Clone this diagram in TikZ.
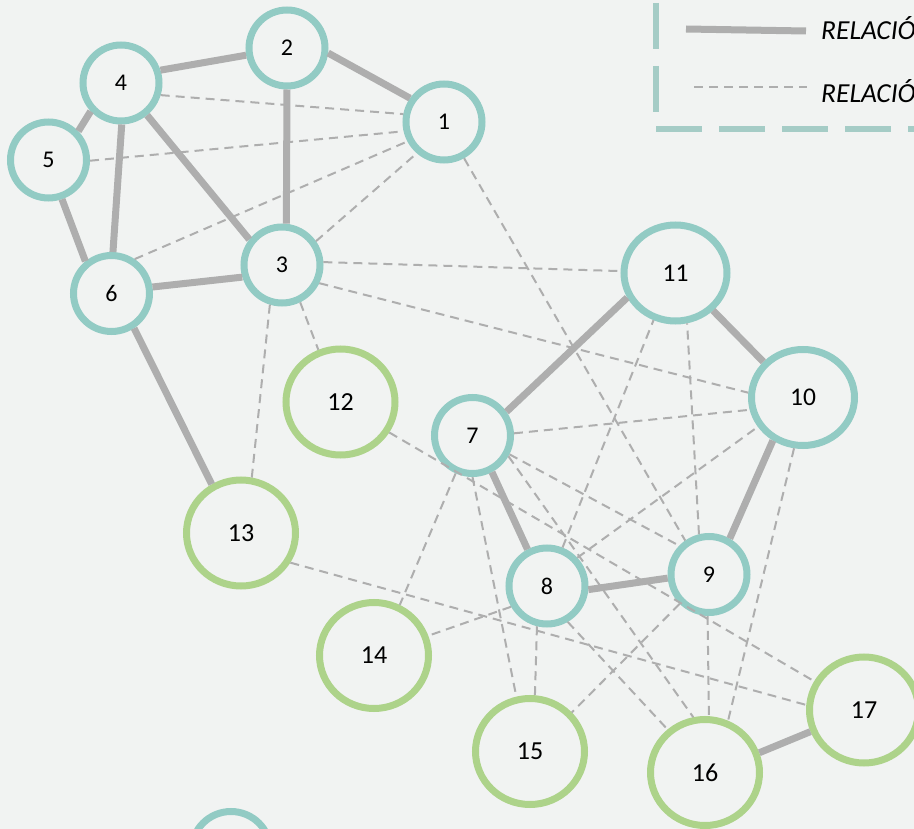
\documentclass[tikz,border=0pt]{standalone}
\usepackage{fontspec}
\setmainfont{Carlito}
\usetikzlibrary{shapes.geometric}
\definecolor{bg}{HTML}{F1F3F2}
\definecolor{ringteal}{HTML}{92CBC4}
\definecolor{ringgreen}{HTML}{ADD38A}
\definecolor{edgegray}{HTML}{AEAEAE}
\definecolor{legendteal}{HTML}{A5CCC6}
\begin{document}
\begin{tikzpicture}[x=1pt,y=-1pt,
  every node/.style={inner sep=0pt},
  person/.style={ellipse, draw=ringteal, line width=7pt,
    minimum width=76pt, minimum height=76pt,
    font=\fontsize{24}{24}\selectfont},
  hub/.style={person, minimum width=103pt, minimum height=96pt,
    font=\fontsize{25.5}{25.5}\selectfont},
  contact/.style={person, draw=ringgreen, minimum width=109pt, minimum height=106pt,
    font=\fontsize{26}{26}\selectfont},
  strong/.style={draw=edgegray, line width=7pt},
  weak/.style={draw=edgegray, line width=2pt, dash pattern=on 9pt off 6pt},
  legendframe/.style={draw=legendteal, line width=6pt, dash pattern=on 46pt off 17pt},
  legendtext/.style={anchor=base west, font=\fontsize{27.5}{27.5}\selectfont\itshape},
]
\fill[bg] (0,0) rectangle (914,829);
\useasboundingbox (0,0) rectangle (914,829);

% people
\node[person] (n1) at (444,122) {1};
\node[person] (n2) at (287,48) {2};
\node[person] (n3) at (282,265) {3};
\node[person] (n4) at (121,83) {4};
\node[person] (n5) at (48.5,160) {5};
\node[person] (n6) at (111.5,293.5) {6};
\node[person] (n7) at (472.5,435.5) {7};
\node[person] (n8) at (547,586) {8};
\node[person] (n9) at (709,574.5) {9};
\node[hub] (n10) at (803,397.5) {10};
\node[hub] (n11) at (675.5,273) {11};
\node[contact] (n12) at (340.5,402) {12};
\node[contact] (n13) at (241,533) {13};
\node[contact] (n14) at (374,655.5) {14};
\node[contact] (n15) at (530,751.5) {15};
\node[contact] (n16) at (705,772.5) {16};
\node[contact] (n17) at (864,710) {17};
\node[person, minimum width=79pt, minimum height=79pt] (n18) at (231,851) {};

% strong ties
\draw[strong] (n2.190) -- (n4.18);
\draw[strong] (n2.-7) -- (n1.145);
\draw[strong] (n2.-90) -- (n3.84);
\draw[strong] (n4.223) -- (n5.44.5);
\draw[strong] (n4.-89) -- (n6.88);
\draw[strong] (n4.-51) -- (n3.142);
\draw[strong] (n5.-71) -- (n6.129);
\draw[strong] (n6.9) -- (n3.197);
\draw[strong] (n6.-57) -- (n13.121);
\draw[strong] (n11.207) -- (n7.35);
\draw[strong] (n11.315) -- (n10.138);
\draw[strong] (n10.235) -- (n9.60);
\draw[strong] (n7.-62) -- (n8.118);
\draw[strong] (n8.-5.6) -- (n9.185);
\draw[strong] (n16.20) -- (n17.202);

% weak ties
\draw[weak] (n4.-17) -- (n1.169);
\draw[weak] (n5.-1) -- (n1.193);
\draw[weak] (n6.56) -- (n1.208);
\draw[weak] (n3.35.5) -- (n1.229);
\draw[weak] (n1.-61) -- (n9.125);
\draw[weak] (n3.4.5) -- (n11.178);
\draw[weak] (n3.-26.6) -- (n10.175);
\draw[weak] (n3.-64) -- (n12.113);
\draw[weak] (n3.-107.6) -- (n13.79);
\draw[weak] (n12.-32) -- (n17.150);
\draw[weak] (n13.-31) -- (n17.175);
\draw[weak] (n7.3.5) -- (n10.193);
\draw[weak] (n7.-27) -- (n9.136);
\draw[weak] (n7.-30) -- (n16.102);
\draw[weak] (n7.-90) -- (n15.104);
\draw[weak] (n7.-114) -- (n14.63);
\draw[weak] (n8.68) -- (n11.245);
\draw[weak] (n8.43) -- (n10.213);
\draw[weak] (n8.210) -- (n14.20);
\draw[weak] (n8.256) -- (n15.85);
\draw[weak] (n8.-60) -- (n16.131.5);
\draw[weak] (n9.104) -- (n11.283);
\draw[weak] (n9.225) -- (n15.43);
\draw[weak] (n9.268.5) -- (n16.86);
\draw[weak] (n10.260) -- (n16.66.5);

% legend
\draw[legendframe] (656,3) -- (656,129) -- (940,129);
\coordinate (ls1) at (686,29);
\coordinate (ls2) at (806,31);
\draw[strong] (ls1) -- (ls2);
\coordinate (lw1) at (694,87);
\coordinate (lw2) at (807,87);
\draw[weak] (lw1) -- (lw2);
\node[legendtext] (lab1) at (821,39.5) {RELACIÓ};
\node[legendtext] (lab2) at (821,103) {RELACIÓ};
\end{tikzpicture}
\end{document}
